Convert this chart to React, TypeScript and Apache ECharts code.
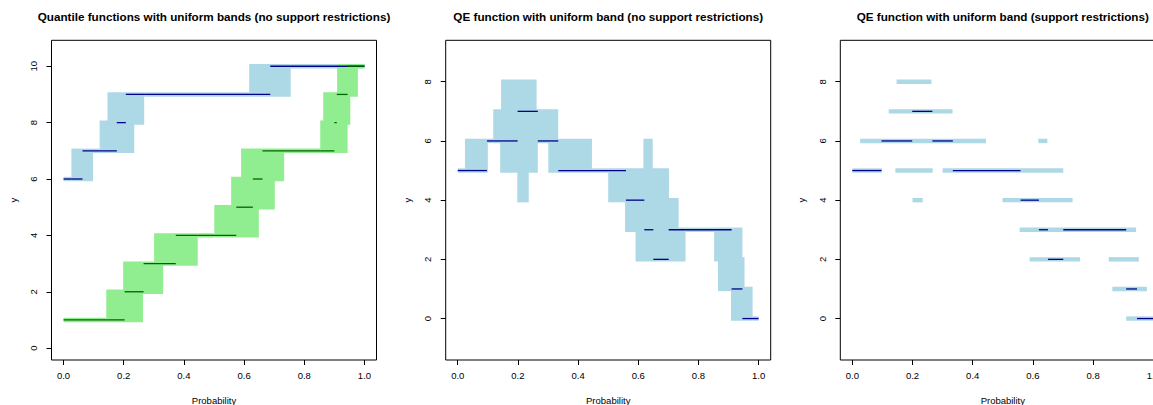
import React, { useEffect, useRef } from "react";
import * as echarts from "echarts";

// ---------- data ----------
const probTicks = [0, 0.2, 0.4, 0.6, 0.8, 1.0];
const yTicksQuantile = [0, 2, 4, 6, 8, 10];
const yTicksQE = [0, 2, 4, 6, 8];

const panelTitles = [
  "Quantile functions with uniform bands (no support restrictions)",
  "QE function with uniform band (no support restrictions)",
  "QE function with uniform band (support restrictions)",
];
const xAxisTitle = "Probability";
const yAxisTitle = "y";

// step functions: breakpoints (probability) and values
const blueBreaks = [0, 0.063, 0.177, 0.207, 0.687, 1.0];
const blueValues = [6, 7, 8, 9, 10];
const greenBreaks = [0, 0.203, 0.266, 0.373, 0.574, 0.629, 0.661, 0.9, 0.908, 0.944, 1.0];
const greenValues = [1, 2, 3, 4, 5, 6, 7, 8, 9, 10];
const qeBreaks = [0, 0.097, 0.199, 0.266, 0.334, 0.559, 0.62, 0.65, 0.701, 0.91, 0.946, 1.0];
const qeValues = [5, 6, 7, 6, 5, 4, 3, 2, 3, 1, 0];

// bands: [p0, p1, lower, upper]
const blueBand = [
  [0, 0.026, 6, 6],
  [0.026, 0.098, 6, 7],
  [0.098, 0.12, 7, 7],
  [0.12, 0.235, 7, 8],
  [0.146, 0.268, 8, 9],
  [0.268, 0.617, 9, 9],
  [0.617, 0.755, 9, 10],
  [0.755, 1.0, 10, 10],
];
const greenBand = [
  [0, 0.142, 1, 1],
  [0.142, 0.264, 1, 2],
  [0.198, 0.331, 2, 3],
  [0.301, 0.446, 3, 4],
  [0.446, 0.501, 4, 4],
  [0.501, 0.649, 4, 5],
  [0.557, 0.702, 5, 6],
  [0.59, 0.733, 6, 7],
  [0.733, 0.853, 7, 7],
  [0.853, 0.944, 7, 8],
  [0.863, 0.953, 8, 9],
  [0.909, 0.978, 9, 10],
  [0.978, 1.0, 10, 10],
];
const qeBand = [
  [0, 0.024, 5, 5],
  [0.024, 0.1, 5, 6],
  [0.1, 0.118, 6, 6],
  [0.118, 0.334, 6, 7],
  [0.144, 0.262, 7, 8],
  [0.141, 0.266, 5, 6],
  [0.198, 0.236, 4, 5],
  [0.301, 0.446, 5, 6],
  [0.446, 0.5, 5, 5],
  [0.5, 0.702, 4, 5],
  [0.617, 0.648, 5, 6],
  [0.556, 0.734, 3, 4],
  [0.591, 0.757, 2, 3],
  [0.757, 0.852, 3, 3],
  [0.852, 0.946, 2, 3],
  [0.865, 0.953, 1, 2],
  [0.908, 0.98, 0, 1],
  [0.98, 1.0, 0, 0],
];
const qeSupportBand = [
  [0.147, 0.263, 8, 8],
  [0.121, 0.333, 7, 7],
  [0.026, 0.444, 6, 6],
  [0.618, 0.648, 6, 6],
  [0.0, 0.098, 5, 5],
  [0.143, 0.267, 5, 5],
  [0.3, 0.701, 5, 5],
  [0.2, 0.234, 4, 4],
  [0.499, 0.732, 4, 4],
  [0.556, 0.943, 3, 3],
  [0.589, 0.757, 2, 2],
  [0.852, 0.952, 2, 2],
  [0.864, 0.979, 1, 1],
  [0.91, 1.0, 0, 0],
];

// ---------- styling ----------
const FONT = '"Liberation Sans", Arial, Helvetica, sans-serif';
const LIGHTBLUE = "#ADD8E6";
const LIGHTGREEN = "#90EE90";
const DARKBLUE = "#00008B";
const DARKGREEN = "#006400";
const BAND_PAD = 2.2;

const gridLefts = [51.5, 445.7, 840.3];
const GRID_TOP = 40.3;
const GRID_W = 325;
const GRID_H = 319.7;

function toSegments(breaks: number[], values: number[]) {
  return values.map((v, i) => [breaks[i], breaks[i + 1], v]);
}

function bandSeries(data: number[][], color: string, idx: number) {
  return {
    type: "custom",
    xAxisIndex: idx,
    yAxisIndex: idx,
    silent: true,
    data,
    renderItem: (_p: any, api: any) => {
      const a = api.coord([api.value(0), api.value(3)]);
      const b = api.coord([api.value(1), api.value(2)]);
      return {
        type: "rect",
        shape: {
          x: a[0],
          y: a[1] - BAND_PAD,
          width: b[0] - a[0],
          height: b[1] - a[1] + 2 * BAND_PAD,
        },
        style: { fill: color },
      };
    },
  };
}

function lineSeries(data: number[][], color: string, idx: number) {
  return {
    type: "custom",
    xAxisIndex: idx,
    yAxisIndex: idx,
    silent: true,
    data,
    renderItem: (_p: any, api: any) => {
      const a = api.coord([api.value(0), api.value(2)]);
      const b = api.coord([api.value(1), api.value(2)]);
      return {
        type: "line",
        shape: { x1: a[0], y1: a[1], x2: b[0], y2: b[1] },
        style: { stroke: color, lineWidth: 1.3 },
      };
    },
  };
}

export default function App() {
  const ref = useRef<HTMLDivElement>(null);

  useEffect(() => {
    if (!ref.current) return;
    const chart = echarts.init(ref.current, null, { renderer: "svg" });

    const grids = gridLefts.map((left) => ({
      left,
      top: GRID_TOP,
      width: GRID_W,
      height: GRID_H,
      show: true,
      borderColor: "#000",
      borderWidth: 1,
      backgroundColor: "transparent",
      containLabel: false,
      outerBoundsMode: "none",
    }));

    const xAxes = gridLefts.map((_, i) => ({
      type: "value",
      gridIndex: i,
      min: -0.04,
      max: 1.04,
      axisLine: { show: false, onZero: false },
      splitLine: { show: false },
      axisTick: {
        show: true,
        length: 5,
        customValues: probTicks,
        lineStyle: { color: "#000", width: 1 },
      },
      axisLabel: {
        customValues: probTicks,
        formatter: (v: number) => v.toFixed(1),
        margin: 10,
        fontSize: 9.5,
        color: "#000",
        fontFamily: FONT,
      },
    }));

    const yAxes = gridLefts.map((_, i) => {
      const ticks = i === 0 ? yTicksQuantile : yTicksQE;
      return {
        type: "value",
        gridIndex: i,
        min: i === 0 ? -0.42 : -1.4,
        max: i === 0 ? 10.92 : 9.4,
        axisLine: { show: false, onZero: false },
        splitLine: { show: false },
        axisTick: {
          show: true,
          length: 5,
          customValues: ticks,
          lineStyle: { color: "#000", width: 1 },
        },
        axisLabel: {
          customValues: ticks,
          rotate: 90,
          margin: 13,
          fontSize: 9.5,
          color: "#000",
          fontFamily: FONT,
        },
      };
    });

    const graphics: any[] = [];
    gridLefts.forEach((left, i) => {
      const cx = left + GRID_W / 2;
      graphics.push({
        type: "text",
        x: cx,
        y: 16.8,
        style: {
          text: panelTitles[i],
          font: `bold 11.7px ${FONT}`,
          fill: "#000",
          align: "center",
          verticalAlign: "middle",
        },
      });
      graphics.push({
        type: "text",
        x: cx,
        y: 400,
        style: {
          text: xAxisTitle,
          font: `9.5px ${FONT}`,
          fill: "#000",
          align: "center",
          verticalAlign: "middle",
        },
      });
      graphics.push({
        type: "text",
        x: left - 38.4,
        y: 200,
        rotation: Math.PI / 2,
        style: {
          text: yAxisTitle,
          font: `9.5px ${FONT}`,
          fill: "#000",
          align: "center",
          verticalAlign: "middle",
        },
      });
    });

    const qeSegments = toSegments(qeBreaks, qeValues);

    chart.setOption({
      animation: false,
      backgroundColor: "#fff",
      grid: grids,
      xAxis: xAxes,
      yAxis: yAxes,
      graphic: graphics,
      series: [
        bandSeries(blueBand, LIGHTBLUE, 0),
        bandSeries(greenBand, LIGHTGREEN, 0),
        lineSeries(toSegments(blueBreaks, blueValues), DARKBLUE, 0),
        lineSeries(toSegments(greenBreaks, greenValues), DARKGREEN, 0),
        bandSeries(qeBand, LIGHTBLUE, 1),
        lineSeries(qeSegments, DARKBLUE, 1),
        bandSeries(qeSupportBand, LIGHTBLUE, 2),
        lineSeries(qeSegments, DARKBLUE, 2),
      ],
    });

    return () => chart.dispose();
  }, []);

  return (
    <div
      style={{
        position: "absolute",
        left: 0,
        top: 0,
        width: 1153,
        height: 405,
        overflow: "hidden",
      }}
    >
      <div ref={ref} style={{ width: 1182, height: 405 }} />
    </div>
  );
}
